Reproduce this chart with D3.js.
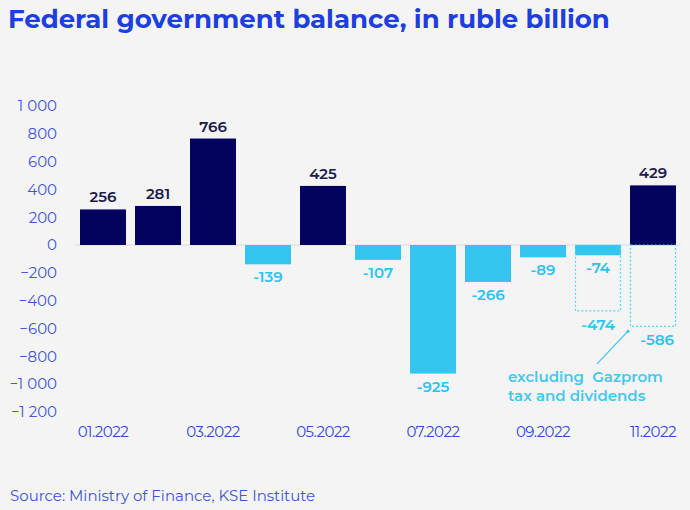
<!DOCTYPE html>
<html><head><meta charset="utf-8">
<script src="https://cdn.jsdelivr.net/npm/d3@7"></script>
<style>body{margin:0;background:#f4f4f4;}svg{display:block;}</style>
</head><body>
<script>
const months = ["01.2022","02.2022","03.2022","04.2022","05.2022","06.2022","07.2022","08.2022","09.2022","10.2022","11.2022"];
const balance = [256,281,766,-139,425,-107,-925,-266,-89,-74,429];
const exclGazprom = [null,null,null,null,null,null,null,null,null,-474,-586];
const yTicks = [1000,800,600,400,200,0,-200,-400,-600,-800,-1000,-1200];
const xTickLabels = ["01.2022","03.2022","05.2022","07.2022","09.2022","11.2022"];
const annotation = ["excluding  Gazprom","tax and dividends"];

const W=690,H=510;
const svg=d3.select("body").append("svg").attr("width",W).attr("height",H);
svg.append("rect").attr("width",W).attr("height",H).attr("fill","#f4f4f4");
const font="Montserrat, 'Open Sans', 'Noto Sans', sans-serif";

svg.append("text").attr("x",8).attr("y",28).attr("font-family",font).attr("font-weight","bold")
  .attr("font-size",26).attr("fill","#1d3fe0").text("Federal government balance, in ruble billion");

const x=d3.scaleBand().domain(months).range([75.5,680.5]).paddingInner(0.164).paddingOuter(0.082);
const y=d3.scaleLinear().domain([-1200,1000]).range([411.8,106]);

const yAxis=svg.append("g").attr("transform","translate(57,0)")
  .call(d3.axisLeft(y).tickValues(yTicks).tickSize(0).tickPadding(0).tickFormat(d=>d3.format(",")(d).replace(","," ")));
yAxis.select(".domain").remove();
yAxis.selectAll("text").attr("font-family",font).attr("font-size",15).attr("fill","#3f55d4");

svg.append("line").attr("x1",75).attr("x2",681).attr("y1",y(0)).attr("y2",y(0)).attr("stroke","#dcdcdc").attr("stroke-width",1);

svg.selectAll("rect.bar").data(months).join("rect").attr("class","bar")
  .attr("x",d=>x(d)).attr("width",x.bandwidth())
  .attr("y",(d,i)=>y(Math.max(0,balance[i])))
  .attr("height",(d,i)=>Math.abs(y(balance[i])-y(0)))
  .attr("fill",(d,i)=>balance[i]>=0?"#03035f":"#35c6ef");

svg.selectAll("rect.excl").data(months.filter((d,i)=>exclGazprom[i]!=null)).join("rect").attr("class","excl")
  .attr("x",d=>x(d)+0.5).attr("width",x.bandwidth()-1)
  .attr("y",y(0))
  .attr("height",d=>y(exclGazprom[months.indexOf(d)])-y(0))
  .attr("fill","none").attr("stroke","#5fcff0").attr("stroke-width",1.2).attr("stroke-dasharray","2,2");

svg.selectAll("text.val").data(months).join("text").attr("class","val")
  .attr("x",d=>x(d)+x.bandwidth()/2)
  .attr("y",(d,i)=>balance[i]>=0?y(balance[i])-7:y(balance[i])+18)
  .attr("text-anchor","middle").attr("font-family",font).attr("font-size",15).attr("font-weight",600)
  .attr("fill",(d,i)=>balance[i]>=0?"#1c1c4a":"#2ec3ee")
  .text((d,i)=>balance[i]);

svg.selectAll("text.exv").data(months.filter((d,i)=>exclGazprom[i]!=null)).join("text").attr("class","exv")
  .attr("x",(d,k)=>x(d)+x.bandwidth()/2+(k===0?0:4))
  .attr("y",d=>y(exclGazprom[months.indexOf(d)])+19)
  .attr("text-anchor","middle").attr("font-family",font).attr("font-size",15).attr("font-weight",600)
  .attr("fill","#2ec3ee").text(d=>exclGazprom[months.indexOf(d)]);

svg.append("line").attr("x1",x("11.2022")-2).attr("y1",y(-620)).attr("x2",x("10.2022")+22).attr("y2",y(-855))
  .attr("stroke","#35c6ef").attr("stroke-width",1.2);
svg.append("circle").attr("cx",x("11.2022")-2).attr("cy",y(-620)).attr("r",1.5).attr("fill","#35c6ef");

svg.selectAll("text.ann").data(annotation).join("text").attr("class","ann")
  .attr("x",508).attr("y",(d,i)=>382+i*19).attr("font-family",font).attr("font-size",15).attr("font-weight",600)
  .attr("fill","#42c8ef").attr("xml:space","preserve").style("white-space","pre").text(d=>d);

svg.selectAll("text.xl").data(xTickLabels).join("text").attr("class","xl")
  .attr("x",d=>x(d)+x.bandwidth()/2).attr("y",437).attr("text-anchor","middle")
  .attr("font-family",font).attr("font-size",15).attr("letter-spacing",-0.5).attr("fill","#3046d6").text(d=>d);

svg.append("text").attr("x",10).attr("y",501).attr("font-family",font).attr("font-size",15)
  .attr("fill","#3f55d4").text("Source: Ministry of Finance, KSE Institute");
</script>
</body></html>
